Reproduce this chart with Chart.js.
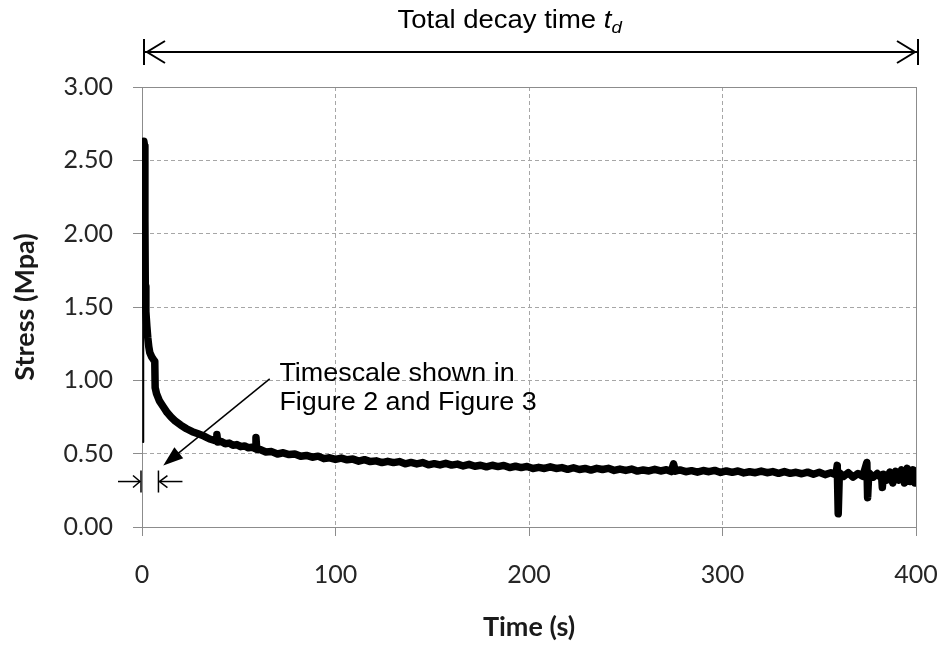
<!DOCTYPE html>
<html>
<head>
<meta charset="utf-8">
<script src="https://cdn.jsdelivr.net/npm/chart.js@4.4.0/dist/chart.umd.min.js"></script>
<style>
  body { margin: 0; background: #fff; }
  canvas { display: block; }
</style>
</head>
<body>
<canvas id="decay" width="942" height="648"></canvas>
<script>
// time in seconds
const timeS = [
  0.55, 0.65, 0.95, 1.3, 1.5, 1.7, 2.0, 2.5, 3.0, 3.5, 4.0, 5.0, 6.0, 6.6, 6.8, 7.5, 9, 11, 13, 15,
  17, 20, 23, 26, 29, 32, 35, 37.5, 38.4, 38.7, 39.1, 41, 43, 45, 47, 49, 51, 53, 55, 57,
  58.5, 58.9, 59.3, 61, 64, 67, 70, 73, 76, 79, 82, 85, 88, 91, 94, 97, 100, 103, 106, 109,
  112, 115, 118, 121, 124, 127, 130, 133, 136, 139, 142, 145, 148, 151, 154, 157, 160, 163, 166, 169,
  172, 175, 178, 181, 184, 187, 190, 193, 196, 199, 202, 205, 208, 211, 214, 217, 220, 223, 226, 229,
  232, 235, 238, 241, 244, 247, 250, 253, 256, 259, 262, 265, 268, 271, 273.5, 274.7, 275.6, 278, 281, 284,
  287, 290, 293, 296, 299, 302, 305, 308, 311, 314, 317, 320, 323, 326, 329, 332, 335, 338, 341, 344,
  347, 350, 353, 356, 358.6, 359.3, 359.8, 360.4, 362.5, 365, 367.5, 370, 372.5, 374.6, 375.0, 375.6, 378, 380, 382.3, 382.6,
  383.2, 385, 386.5, 388, 389.5, 391, 392.5, 394, 395.5, 397, 398.5, 399.5, 400.2
];

// stress in MPa
const stressMPa = [
  0.58, 2.0, 2.63, 2.60, 2.10, 1.64, 1.47, 1.37, 1.29, 1.23, 1.19, 1.16, 1.14, 1.13, 0.95, 0.91, 0.86, 0.82, 0.78, 0.75,
  0.725, 0.695, 0.67, 0.65, 0.635, 0.62, 0.60, 0.59, 0.595, 0.63, 0.58, 0.583, 0.568, 0.572, 0.557, 0.562, 0.548, 0.553, 0.540, 0.545,
  0.535, 0.61, 0.53, 0.528, 0.511, 0.514, 0.498, 0.506, 0.494, 0.498, 0.482, 0.488, 0.476, 0.483, 0.466, 0.472, 0.461, 0.470, 0.458, 0.463,
  0.449, 0.459, 0.446, 0.451, 0.439, 0.448, 0.439, 0.446, 0.431, 0.440, 0.430, 0.439, 0.424, 0.432, 0.423, 0.434, 0.422, 0.429, 0.416, 0.427,
  0.414, 0.421, 0.410, 0.421, 0.412, 0.420, 0.405, 0.414, 0.405, 0.413, 0.399, 0.407, 0.399, 0.410, 0.399, 0.405, 0.393, 0.404, 0.392, 0.399,
  0.388, 0.400, 0.392, 0.400, 0.386, 0.395, 0.386, 0.395, 0.381, 0.389, 0.382, 0.393, 0.382, 0.390, 0.378, 0.43, 0.381, 0.389, 0.377, 0.384,
  0.374, 0.385, 0.377, 0.386, 0.372, 0.382, 0.373, 0.382, 0.369, 0.377, 0.370, 0.381, 0.370, 0.378, 0.366, 0.378, 0.366, 0.373, 0.363, 0.374,
  0.360, 0.373, 0.357, 0.370, 0.355, 0.42, 0.09, 0.37, 0.345, 0.37, 0.34, 0.365, 0.345, 0.44, 0.20, 0.37, 0.34, 0.365, 0.33, 0.27,
  0.36, 0.32, 0.375, 0.30, 0.38, 0.32, 0.39, 0.30, 0.40, 0.31, 0.39, 0.30, 0.37
];

const xTicks = [0, 100, 200, 300, 400];
const yTicks = [0, 0.5, 1.0, 1.5, 2.0, 2.5, 3.0];
const xTitle = "Time (s)";
const yTitle = "Stress (Mpa)";
const topNote = "Total decay time ";
const scaleNote = ["Timescale shown in", "Figure 2 and Figure 3"];

const points = timeS.map((t, i) => ({ x: t, y: stressMPa[i] }));

function line(ctx, x1, y1, x2, y2) {
  ctx.beginPath();
  ctx.moveTo(x1, y1);
  ctx.lineTo(x2, y2);
  ctx.stroke();
}

// text drawn a little wider than the font, as in the original picture
function wideText(ctx, str, x, y, sx) {
  ctx.save();
  ctx.translate(x, y);
  ctx.scale(sx, 1);
  ctx.fillText(str, 0, 0);
  ctx.restore();
}

const notes = {
  id: "notes",
  beforeDatasetsDraw(chart) {
    const { ctx, chartArea: a } = chart;
    ctx.save();
    ctx.strokeStyle = "#8c8c8c";
    ctx.lineWidth = 1;
    ctx.strokeRect(a.left + 0.5, a.top + 0.5, a.right - a.left, a.bottom - a.top);
    ctx.restore();
  },
  afterDraw(chart) {
    const { ctx, scales: { x, y } } = chart;
    ctx.save();
    ctx.fillStyle = "#000";
    ctx.strokeStyle = "#000";

    // total decay arrow
    const xa = x.getPixelForValue(0) + 2;
    const xb = x.getPixelForValue(400) + 2;
    const ya = 52;
    ctx.lineWidth = 2;
    line(ctx, xa, ya, xb, ya);
    line(ctx, xa, ya - 13, xa, ya + 13);
    line(ctx, xb, ya - 13, xb, ya + 13);
    ctx.beginPath();
    ctx.moveTo(xa + 21, ya - 11); ctx.lineTo(xa + 3, ya); ctx.lineTo(xa + 21, ya + 11);
    ctx.moveTo(xb - 21, ya - 11); ctx.lineTo(xb - 3, ya); ctx.lineTo(xb - 21, ya + 11);
    ctx.stroke();

    const sx = 1.1;
    ctx.textBaseline = "alphabetic";
    ctx.textAlign = "left";
    ctx.font = '25px "Liberation Sans"';
    const w1 = ctx.measureText(topNote).width * sx;
    ctx.font = 'italic 25px "Liberation Sans"';
    const w2 = ctx.measureText("t").width * sx;
    ctx.font = 'italic 17px "Liberation Sans"';
    const w3 = ctx.measureText("d").width * sx;
    let tx = x.getPixelForValue(190) - (w1 + w2 + w3) / 2;
    ctx.font = '25px "Liberation Sans"';
    wideText(ctx, topNote, tx, 28, sx);
    tx += w1;
    ctx.font = 'italic 25px "Liberation Sans"';
    wideText(ctx, "t", tx, 28, sx);
    tx += w2;
    ctx.font = 'italic 17px "Liberation Sans"';
    wideText(ctx, "d", tx, 33, sx);

    // timescale note
    ctx.font = '26px "Liberation Sans"';
    const nx = x.getPixelForValue(71);
    const ny = y.getPixelForValue(1.0);
    wideText(ctx, scaleNote[0], nx, ny + 1, 1.035);
    wideText(ctx, scaleNote[1], nx, ny + 30, 1.035);

    const p0x = x.getPixelForValue(66), p0y = y.getPixelForValue(1.01);
    const p1x = x.getPixelForValue(11), p1y = y.getPixelForValue(0.42);
    const ang = Math.atan2(p1y - p0y, p1x - p0x);
    ctx.lineWidth = 1.5;
    line(ctx, p0x, p0y, p1x - 14 * Math.cos(ang), p1y - 14 * Math.sin(ang));
    ctx.beginPath();
    ctx.moveTo(p1x, p1y);
    ctx.lineTo(p1x - 20 * Math.cos(ang) + 7 * Math.sin(ang), p1y - 20 * Math.sin(ang) - 7 * Math.cos(ang));
    ctx.lineTo(p1x - 20 * Math.cos(ang) - 7 * Math.sin(ang), p1y - 20 * Math.sin(ang) + 7 * Math.cos(ang));
    ctx.closePath();
    ctx.fill();

    // small span markers
    const mL = x.getPixelForValue(0) - 1;
    const mR = x.getPixelForValue(8.5);
    const mTop = y.getPixelForValue(0.385), mBot = y.getPixelForValue(0.235);
    const my = y.getPixelForValue(0.31);
    ctx.lineWidth = 1.5;
    line(ctx, mL, mTop, mL, mBot);
    line(ctx, mR, mTop, mR, mBot);
    line(ctx, mL - 23, my, mL - 1, my);
    line(ctx, mR + 24, my, mR + 1, my);
    ctx.beginPath();
    ctx.moveTo(mL - 8, my - 6); ctx.lineTo(mL - 1, my); ctx.lineTo(mL - 8, my + 6);
    ctx.moveTo(mR + 9, my - 6); ctx.lineTo(mR + 1, my); ctx.lineTo(mR + 9, my + 6);
    ctx.stroke();
    ctx.restore();
  }
};

const config = {
  type: "line",
  data: {
    datasets: [{
      data: points,
      borderColor: "#000",
      borderWidth: 7.5,
      pointRadius: 0,
      tension: 0,
      borderJoinStyle: "round",
      borderCapStyle: "round",
      segment: {
        borderWidth: (c) => (c.p0DataIndex === 0 ? 2 : undefined)
      }
    }]
  },
  options: {
    responsive: false,
    animation: false,
    layout: { autoPadding: false, padding: { top: 87, right: 26, bottom: 0, left: 0 } },
    plugins: {
      legend: { display: false },
      tooltip: { enabled: false }
    },
    scales: {
      x: {
        type: "linear",
        min: 0,
        max: 400,
        afterBuildTicks: (s) => { s.ticks = xTicks.map((v) => ({ value: v })); },
        afterFit: (s) => { s.height = 121; s.paddingLeft = 0; s.paddingRight = 0; },
        grid: { color: "#a6a6a6", tickLength: 9, tickColor: "#8c8c8c" },
        border: { color: "#8c8c8c", dash: [4, 3] },
        ticks: { font: { family: "Lato", size: 25 }, color: "#262626", padding: 24, maxRotation: 0 },
        title: {
          display: true,
          text: xTitle,
          color: "#1a1a1a",
          font: { family: "Lato", size: 27, weight: "bold" },
          padding: { top: 0, bottom: 5 }
        }
      },
      y: {
        min: 0,
        max: 3,
        afterBuildTicks: (s) => { s.ticks = yTicks.map((v) => ({ value: v })); },
        afterFit: (s) => { s.width = 142; s.paddingTop = 0; s.paddingBottom = 0; },
        grid: { color: "#a6a6a6", tickLength: 9, tickColor: "#8c8c8c" },
        border: { color: "#8c8c8c", dash: [4, 3] },
        ticks: {
          font: { family: "Lato", size: 25 },
          color: "#262626",
          padding: 20,
          callback: (v) => Number(v).toFixed(2)
        },
        title: {
          display: true,
          text: yTitle,
          color: "#1a1a1a",
          font: { family: "Lato", size: 27, weight: "bold" },
          padding: { top: 9, bottom: 0 }
        }
      }
    }
  },
  plugins: [notes]
};

new Chart(document.getElementById("decay"), config);
</script>
</body>
</html>
